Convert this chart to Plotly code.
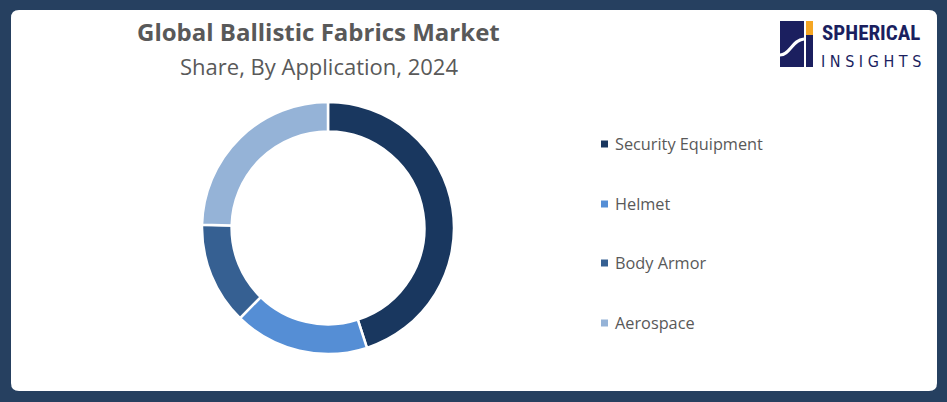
import plotly.graph_objects as go

labels = ["Security Equipment", "Helmet", "Body Armor", "Aerospace"]
values = [45.0, 17.3, 13.1, 24.6]
colors = ["#19375f", "#558ed5", "#366092", "#95b3d7"]

title = "Global Ballistic Fabrics Market"
subtitle = "Share, By Application, 2024"

W, H = 947, 402

def px(x):
    return x / W

def py(y):
    return 1 - y / H

fig = go.Figure()
cx, cy, r = 328, 228, 126
fig.add_trace(go.Pie(
    labels=labels, values=values, hole=0.765, sort=False, direction="clockwise",
    rotation=0, marker=dict(colors=colors, line=dict(color="white", width=2.5)),
    textinfo="none", hoverinfo="label+percent", showlegend=False,
    domain=dict(x=[px(cx - r), px(cx + r)], y=[py(cy + r), py(cy - r)]),
))

shapes = []
# white rounded panel
x0, y0, x1, y1, rr = 11, 10, 937, 391, 8
path = (f"M {px(x0+rr)} {py(y0)} L {px(x1-rr)} {py(y0)} Q {px(x1)} {py(y0)} {px(x1)} {py(y0+rr)} "
        f"L {px(x1)} {py(y1-rr)} Q {px(x1)} {py(y1)} {px(x1-rr)} {py(y1)} "
        f"L {px(x0+rr)} {py(y1)} Q {px(x0)} {py(y1)} {px(x0)} {py(y1-rr)} "
        f"L {px(x0)} {py(y0+rr)} Q {px(x0)} {py(y0)} {px(x0+rr)} {py(y0)} Z")
shapes.append(dict(type="path", xref="paper", yref="paper", path=path,
                   fillcolor="white", line=dict(width=0), layer="below"))

annotations = [
    dict(text=f"<b>{title}</b>", x=px(318), y=py(32), xref="paper", yref="paper",
         showarrow=False, font=dict(size=24, color="#595959", family="Open Sans"),
         xanchor="center", yanchor="middle"),
    dict(text=subtitle, x=px(319), y=py(66), xref="paper", yref="paper",
         showarrow=False, font=dict(size=22, color="#595959", family="Open Sans"),
         xanchor="center", yanchor="middle"),
]

# legend
leg_y = [144, 204, 263, 323]
for lab, col, ly in zip(labels, colors, leg_y):
    shapes.append(dict(type="rect", xref="paper", yref="paper",
                       x0=px(601), x1=px(608), y0=py(ly + 3.5), y1=py(ly - 3.5),
                       fillcolor=col, line=dict(width=0)))
    annotations.append(dict(text=lab, x=px(613), y=py(ly), xref="paper", yref="paper",
                            showarrow=False, xanchor="left", yanchor="middle",
                            font=dict(size=16.3, color="#595959", family="Open Sans")))

# logo
navy = "#1b1f5f"
shapes.append(dict(type="rect", xref="paper", yref="paper", x0=px(780), x1=px(804),
                   y0=py(67), y1=py(21), fillcolor=navy, line=dict(width=0)))
shapes.append(dict(type="rect", xref="paper", yref="paper", x0=px(806), x1=px(813),
                   y0=py(67), y1=py(35), fillcolor=navy, line=dict(width=0)))
shapes.append(dict(type="rect", xref="paper", yref="paper", x0=px(806), x1=px(813),
                   y0=py(35), y1=py(21), fillcolor="#f5a623", line=dict(width=0)))
shapes.append(dict(type="path", xref="paper", yref="paper",
                   path=f"M {px(780)} {py(55)} C {px(790)} {py(55)} {px(792)} {py(40)} {px(804)} {py(39)}",
                   line=dict(color="white", width=3)))
annotations.append(dict(text="<b>SPHERICAL</b>", x=px(871), y=py(33), xref="paper", yref="paper",
                        showarrow=False, xanchor="center", yanchor="middle",
                        font=dict(size=21, color=navy,
                                  family="Liberation Sans Narrow, Roboto Condensed, DejaVu Sans Condensed")))
annotations.append(dict(text="I N S I G H T S", x=px(871), y=py(62), xref="paper", yref="paper",
                        showarrow=False, xanchor="center", yanchor="middle",
                        font=dict(size=16, color=navy, family="DejaVu Sans Condensed")))

fig.update_layout(
    width=W, height=H, margin=dict(l=0, r=0, t=0, b=0),
    paper_bgcolor="#264060", plot_bgcolor="white",
    shapes=shapes, annotations=annotations, showlegend=False,
)

fig.write_html("out.html", config={"displayModeBar": False},
               post_script="document.body.style.margin='0';document.body.style.padding='0';")
